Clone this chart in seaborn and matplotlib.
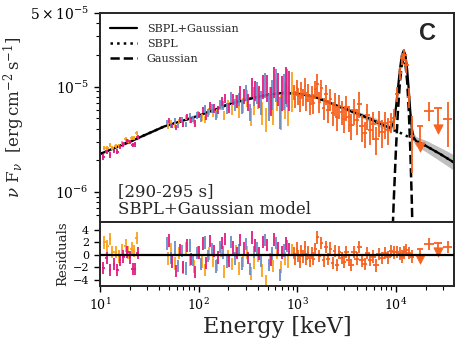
import numpy as np
import matplotlib
matplotlib.use("Agg")
import matplotlib.pyplot as plt
import seaborn as sns

# fluxes below are in units of 1e-6 erg cm^-2 s^-1, energies in keV

# ---- model curves ----
sbpl_E = [10, 20, 45, 100, 150, 200, 300, 400, 500, 700, 1000, 1500, 2000, 3000,
          4600, 6000, 8500, 9000, 9500, 10000, 10500, 11000, 11500, 12000, 12500,
          13000, 13500, 14000, 14500, 15000, 16000, 20000, 28000, 39000]
sbpl_F = [2.3, 3.0, 4.2, 5.3, 6.1, 6.8, 7.5, 8.0, 8.35, 8.7, 8.6, 8.0, 7.2, 6.2,
          5.3, 4.75, 4.05, 3.95, 3.85, 3.8, 3.72, 3.65, 3.58, 3.5, 3.45,
          3.38, 3.3, 3.25, 3.2, 3.15, 3.05, 2.75, 2.3, 1.9]
total_F = [2.3, 3.0, 4.2, 5.3, 6.1, 6.8, 7.5, 8.0, 8.35, 8.7, 8.6, 8.0, 7.2, 6.2,
           5.3, 4.75, 4.08, 4.15, 4.66, 6.3, 9.72, 14.85, 19.9, 22.0, 19.75,
           14.6, 9.3, 5.75, 4.01, 3.35, 3.05, 2.75, 2.3, 1.9]
total_lo = [2.24, 2.93, 4.12, 5.2, 6.0, 6.68, 7.37, 7.87, 8.22, 8.56, 8.45, 7.82, 7.0, 5.98,
            5.0, 4.43, 3.75, 3.82, 4.3, 5.85, 9.2, 14.0, 19.0, 21.0, 18.8,
            13.8, 8.6, 5.25, 3.65, 3.0, 2.72, 2.42, 1.97, 1.6]
total_hi = [2.36, 3.07, 4.28, 5.4, 6.2, 6.92, 7.63, 8.13, 8.48, 8.84, 8.75, 8.18, 7.4, 6.45,
            5.6, 5.1, 4.4, 4.5, 5.0, 6.75, 10.2, 15.7, 20.8, 23.0, 20.7,
            15.4, 10.0, 6.25, 4.4, 3.7, 3.35, 3.1, 2.65, 2.25]
gauss_E = [9000, 9500, 10000, 10500, 11000, 11500, 12000, 12500, 13000, 13500, 14000, 14500, 15000]
gauss_F = [0.2, 0.81, 2.5, 6.0, 11.2, 16.3, 18.5, 16.3, 11.2, 6.0, 2.5, 0.81, 0.2]

# ---- NaI detectors, low-energy part ----
or_lo_E = [11.0, 11.8, 12.6, 13.3, 14.4, 15.6, 16.7, 18.3, 19.2, 21.0, 22.0, 23.6]
or_lo_dE = [0.4, 0.4, 0.4, 0.45, 0.5, 0.5, 0.55, 0.6, 0.6, 0.7, 0.7, 0.8]
or_lo_F = [2.61, 2.62, 2.81, 2.64, 2.74, 2.72, 2.94, 3.15, 3.05, 3.23, 3.24, 3.63]
or_lo_err = [0.12, 0.12, 0.13, 0.12, 0.12, 0.12, 0.13, 0.14, 0.14, 0.14, 0.15, 0.16]
or_lo_res = [2.0, 1.4, 2.6, 0.5, 0.5, -0.3, 0.8, 1.5, 0.4, 1.0, 0.6, 2.7]

pk_lo_E = [10.8, 11.7, 12.6, 13.9, 15.0, 16.0, 17.2, 18.9, 20.1, 21.5, 22.6, 24.1]
pk_lo_dE = [0.4, 0.4, 0.4, 0.45, 0.5, 0.5, 0.55, 0.6, 0.6, 0.7, 0.7, 0.8]
pk_lo_F = [2.15, 2.40, 2.25, 2.45, 2.42, 2.69, 2.83, 3.06, 2.98, 2.80, 2.85, 3.32]
pk_lo_err = [0.12, 0.12, 0.13, 0.12, 0.12, 0.12, 0.13, 0.14, 0.14, 0.14, 0.15, 0.16]
pk_lo_res = [-2.1, -0.5, -2.4, -1.5, -2.4, -0.8, -0.3, 0.5, -0.4, -2.3, -2.3, 0.3]

# ---- NaI detectors, 50-900 keV ----
bl_E = [48, 52, 57, 62, 68, 74, 81, 88, 96, 105, 115, 125, 137, 150, 163, 178, 195,
        213, 232, 254, 277, 302, 330, 360, 393, 430, 469, 512, 559, 611, 667, 728, 795]
bl_F = [4.61, 4.31, 4.78, 4.29, 4.87, 4.37, 5.29, 4.91, 5.33, 4.98, 6.16, 5.68, 6.22,
        5.38, 6.83, 6.68, 6.23, 7.99, 6.71, 7.69, 6.47, 8.78, 5.81, 8.23, 8.96, 7.23,
        10.7, 6.65, 8.74, 10.9, 6.0, 9.64, 10.6]
bl_err = [0.23, 0.22, 0.26, 0.24, 0.29, 0.26, 0.34, 0.32, 0.37, 0.37, 0.49, 0.48, 0.56,
          0.51, 0.68, 0.70, 0.69, 0.96, 0.87, 1.1, 1.0, 1.5, 1.1, 1.7, 2.1, 1.8,
          2.9, 1.9, 2.7, 3.7, 2.0, 3.6, 4.2]
bl_res = [1.8, -0.5, 1.2, -1.8, 0.6, -2.2, 1.5, -0.8, 0.3, -1.5, 2.0, -0.2, 0.9, -1.9,
          1.3, 0.4, -1.1, 2.1, -0.6, 0.8, -1.4, 1.7, -2.3, 0.5, 1.1, -0.9, 2.4, -1.6,
          0.2, 1.9, -3.3, 0.7, 1.4]

pk_E = [50, 54, 59, 64, 70, 77, 84, 92, 100, 110, 120, 131, 143, 156, 171, 186, 203,
        222, 243, 265, 289, 316, 345, 377, 411, 449, 491, 536, 585, 639, 698, 762, 832]
pk_F = [4.75, 4.24, 4.10, 4.86, 4.38, 5.23, 4.84, 4.49, 5.41, 6.02, 5.24, 6.55, 6.22,
        6.04, 7.2, 7.78, 6.36, 7.59, 7.28, 8.82, 8.16, 7.22, 10.0, 9.23, 8.24, 10.3,
        9.99, 7.54, 11.5, 10.0, 9.23, 11.1, 9.95]
pk_err = [0.24, 0.21, 0.23, 0.27, 0.26, 0.31, 0.31, 0.31, 0.38, 0.45, 0.42, 0.56, 0.56,
          0.57, 0.72, 0.82, 0.70, 0.95, 1.0, 1.3, 1.35, 1.3, 2.0, 2.0, 2.0, 2.7,
          2.8, 2.3, 3.7, 3.5, 3.4, 4.3, 4.1]
pk_res = [2.3, -1.2, -2.6, 0.8, -2.0, 1.5, -0.7, -2.8, 0.4, 1.8, -1.3, 2.2, 0.6, -0.4,
          1.9, 2.6, -0.9, 1.2, 0.3, 2.4, 1.0, -0.5, 2.8, 1.5, 0.2, 2.1, 1.6, -0.8,
          2.5, 1.1, 0.4, 1.8, 0.9]

or_E = [49, 53, 58, 63, 69, 75, 82, 90, 98, 107, 117, 128, 140, 153, 167, 182, 199,
        217, 237, 259, 283, 309, 337, 368, 402, 439, 480, 524, 572, 625, 682, 745, 814, 880]
or_F = [4.2, 4.61, 4.28, 4.71, 4.36, 5.07, 4.82, 4.68, 5.43, 5.11, 4.86, 5.82, 5.63,
        5.54, 6.64, 5.33, 6.66, 6.11, 7.39, 5.88, 6.72, 7.85, 5.27, 6.73, 7.91, 5.7,
        5.0, 7.64, 6.36, 8.92, 6.05, 7.9, 7.17, 9.76]
or_err = [0.21, 0.23, 0.24, 0.26, 0.26, 0.30, 0.31, 0.30, 0.38, 0.38, 0.39, 0.49, 0.51,
          0.53, 0.66, 0.56, 0.73, 0.73, 1.0, 0.88, 1.1, 1.4, 1.0, 1.4, 1.8, 1.4,
          1.3, 2.2, 2.0, 3.0, 2.2, 3.0, 2.9, 4.0]
or_res = [-0.6, 0.9, -1.4, 0.3, -2.1, 1.0, -0.8, -1.9, 0.5, -1.2, -2.4, 0.2, -0.9,
          -1.6, 0.7, -2.7, -0.3, -1.5, 0.6, -2.2, -1.0, 0.4, -3.0, -1.3, -0.1, -2.5,
          -4.2, -0.7, -1.8, 0.3, -2.0, -0.6, -1.1, 0.8]

# ---- BGO detector, 0.9-40 MeV ----
bgo_E = [920, 950, 985, 1020, 1060, 1100, 1140, 1190, 1240, 1290, 1340, 1400, 1460, 1530,
         1600, 1680, 1760, 1850, 1950, 2050, 2160, 2280, 2400, 2530, 2670, 2820, 2980,
         3150, 3340, 3540, 3760, 4000, 4250, 4520, 4820, 5150, 5500, 5900, 6300, 6750,
         7250, 7800, 8400, 9000, 9600, 10300, 11000, 11600, 12200, 12800, 13600, 14600,
         21800, 33500]
bgo_dE = [23, 24, 25, 26, 27, 28, 29, 30, 31, 32, 34, 35, 37, 38,
          64, 67, 70, 74, 78, 82, 86, 91, 96, 101, 107, 113, 119,
          190, 200, 212, 226, 240, 255, 270, 290, 310, 330, 355, 380, 405, 435, 470, 505,
          450, 480, 515, 550, 580, 610, 640, 680, 730, 2400, 3500]
bgo_F = [8.9, 7.6, 9.8, 8.2, 7.1, 9.4, 8.0, 10.2, 7.4, 8.9, 6.9, 8.4, 7.0, 9.5,
         10.5, 7.2, 9.6, 6.3, 8.5, 6.0, 7.7, 5.6, 7.0, 5.2, 6.6, 5.8, 4.9,
         6.4, 5.1, 4.3, 6.0, 4.8, 6.9, 4.2, 3.6, 5.4, 3.9, 4.4, 3.2, 4.6, 3.7, 4.5, 3.9,
         4.6, 5.0, 8.5, 13.5, 18.5, 20.0, 16.0, 8.0, 3.4, 5.9, 4.9]
bgo_err = [1.5, 1.4, 1.7, 1.5, 1.4, 1.7, 1.5, 1.9, 1.5, 1.7, 1.5, 1.7, 1.5, 1.9,
           2.6, 1.6, 2.0, 1.5, 1.8, 1.5, 1.8, 1.4, 1.7, 1.4, 1.7, 1.5, 1.3,
           1.7, 1.4, 1.2, 1.7, 1.3, 1.9, 1.2, 1.0, 1.5, 1.1, 1.3, 0.95, 1.3, 1.1, 1.3, 1.1,
           1.0, 1.1, 1.4, 2.0, 2.4, 2.6, 2.4, 1.8, 1.9, 1.2, 2.2]
bgo_res = [0.3, -0.7, 1.0, -0.2, -1.1, 0.6, -0.3, 1.2, -0.7, 0.4, -1.0, 0.3, -0.6, 0.9,
           2.8, -0.2, 1.9, -0.9, 1.3, -0.7, 1.0, -1.3, 0.6, -1.6, 0.4, -0.5, -1.2,
           0.5, -0.8, -1.6, 0.5, -0.6, 1.3, -0.9, -1.5, 0.3, -0.8, -0.3, -1.7, 0.1, -0.5, 0.3, -0.4,
           0.6, 0.4, 0.5, 0.2, -0.3, 0.4, 0.8, 0.3, -0.3, 1.7, 1.3]
# upper limits
ul_E = [17600, 27000]
ul_dE = [1300, 2500]
ul_F = [4.2, 6.3]
ul_tip = [2.65, 3.95]
ul_res = [1.0, 1.9]
ul_res_tip = [-0.6, 0.5]

c_or, c_pk, c_bl, c_bgo = "#FBA21C", "#E31A80", "#6A8BCB", "#F7621F"
scale = 1e-6

sns.set_theme(style="ticks")
plt.rcParams["font.family"] = ["DejaVu Serif"]
plt.rcParams["mathtext.fontset"] = "dejavuserif"
plt.rcParams["axes.linewidth"] = 1.4
for k in ("xtick", "ytick"):
    plt.rcParams[k + ".direction"] = "out"
    plt.rcParams[k + ".major.size"] = 4.5
    plt.rcParams[k + ".minor.size"] = 2.8
    plt.rcParams[k + ".major.width"] = 1.0
    plt.rcParams[k + ".minor.width"] = 0.8
    plt.rcParams[k + ".color"] = "black"

fig = plt.figure(figsize=(4.63, 3.49), dpi=100)
ax = fig.add_axes([0.216, 0.364, 0.765, 0.599])
axr = fig.add_axes([0.216, 0.181, 0.765, 0.183], sharex=ax)
ax.set_xscale("log")
ax.set_yscale("log")

def sc(v):
    return np.asarray(v) * scale

# shaded model uncertainty
ax.fill_between(sbpl_E, sc(total_lo), sc(total_hi), color="0.75", lw=0, zorder=1)

# model lines (under the data)
sns.lineplot(x=sbpl_E, y=sc(total_F), color="black", lw=1.6, ax=ax, zorder=1.6,
             label="SBPL+Gaussian")
sns.lineplot(x=sbpl_E, y=sc(sbpl_F), color="black", lw=1.8, linestyle=":", ax=ax,
             zorder=1.5, label="SBPL")
sns.lineplot(x=gauss_E, y=sc(gauss_F), color="black", lw=1.8, linestyle="--", ax=ax,
             zorder=1.5, label="Gaussian")

eb = dict(fmt="none", elinewidth=1.3, capsize=0, zorder=2)
# data (top)
ax.errorbar(bgo_E, sc(bgo_F), yerr=sc(bgo_err), xerr=bgo_dE, ecolor=c_bgo, **eb)
ax.errorbar(ul_E, sc(ul_F), xerr=ul_dE,
            yerr=[sc(ul_F) - sc(ul_tip), np.zeros(len(ul_F))], ecolor=c_bgo, **eb)
sns.scatterplot(x=ul_E, y=sc(ul_tip), marker="v", s=45, color=c_bgo, edgecolor=c_bgo,
                ax=ax, zorder=3, legend=False)
ax.errorbar(or_lo_E, sc(or_lo_F), yerr=sc(or_lo_err), xerr=or_lo_dE, ecolor=c_or, **eb)
ax.errorbar(pk_lo_E, sc(pk_lo_F), yerr=sc(pk_lo_err), xerr=pk_lo_dE, ecolor=c_pk, **eb)
ax.errorbar(or_E, sc(or_F), yerr=sc(or_err), ecolor=c_or, **eb)
ax.errorbar(bl_E, sc(bl_F), yerr=sc(bl_err), ecolor=c_bl, **eb)
ax.errorbar(pk_E, sc(pk_F), yerr=sc(pk_err), ecolor=c_pk, **eb)

ax.set_xlim(10, 3.9e4)
ax.set_ylim(5.2e-7, 5e-5)
ax.set_yticks([1e-6, 1e-5, 5e-5])
ax.set_yticklabels([r"$10^{-6}$", r"$10^{-5}$", r"$5\times10^{-5}$"], fontsize=10)
ax.tick_params(axis="x", which="both", labelbottom=False, length=0)
ax.set_ylabel(r"$\nu\ \mathrm{F}_\nu\ \ [\mathrm{erg\,cm^{-2}\,s^{-1}}]$", fontsize=12,
              labelpad=2)
leg = ax.legend(loc="upper left", frameon=False, fontsize=8, handlelength=2.4,
                handletextpad=0.9, labelspacing=0.45, borderaxespad=0.5,
                bbox_to_anchor=(0.0, 0.995))
ax.text(0.05, 0.02, "[290-295 s]\nSBPL+Gaussian model", transform=ax.transAxes,
        fontsize=12, va="bottom", ha="left", linespacing=1.05)
ax.text(0.925, 0.9, "C", transform=ax.transAxes, fontsize=17, fontweight="bold",
        family="Liberation Sans", ha="center", va="center")

# residuals
axr.errorbar(bgo_E, bgo_res, yerr=1, xerr=bgo_dE, ecolor=c_bgo, **eb)
axr.errorbar(ul_E, ul_res, xerr=ul_dE,
             yerr=[np.array(ul_res) - np.array(ul_res_tip), np.zeros(len(ul_res))],
             ecolor=c_bgo, **eb)
sns.scatterplot(x=ul_E, y=ul_res_tip, marker="v", s=45, color=c_bgo, edgecolor=c_bgo,
                ax=axr, zorder=3, legend=False)
axr.errorbar(or_lo_E, or_lo_res, yerr=1, xerr=or_lo_dE, ecolor=c_or, **eb)
axr.errorbar(pk_lo_E, pk_lo_res, yerr=1, xerr=pk_lo_dE, ecolor=c_pk, **eb)
axr.errorbar(or_E, or_res, yerr=1, ecolor=c_or, **eb)
axr.errorbar(bl_E, bl_res, yerr=1, ecolor=c_bl, **eb)
axr.errorbar(pk_E, pk_res, yerr=1, ecolor=c_pk, **eb)
axr.axhline(0, color="black", lw=1.6, zorder=6)
axr.set_ylim(-5, 5.3)
axr.set_yticks([-4, -2, 0, 2, 4])
axr.set_yticklabels(["\u22124", "\u22122", "0", "2", "4"], fontsize=8)
axr.tick_params(axis="x", labelsize=9)
axr.set_ylabel("Residuals", fontsize=9.5, labelpad=2)
axr.set_xlabel("Energy [keV]", fontsize=16, labelpad=2)

fig.savefig("out.png", dpi=100)
